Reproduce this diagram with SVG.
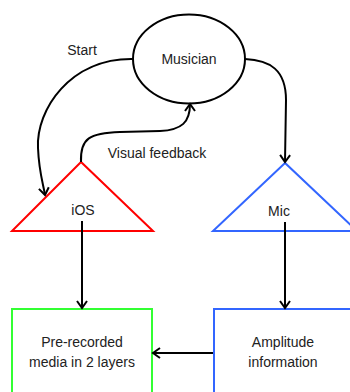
<svg xmlns="http://www.w3.org/2000/svg" width="350" height="392" viewBox="0 0 350 392">
<style>
text{font-family:"Liberation Sans",Arial,sans-serif;font-size:14px;fill:#222;text-anchor:middle}
.shape{fill:#fff;stroke-width:2}
.conn{fill:none;stroke:#000;stroke-width:2}
</style>
<defs>
<marker id="arr" markerWidth="12" markerHeight="12" refX="9" refY="6" orient="auto" markerUnits="userSpaceOnUse">
<path d="M2,1 L9,6 L2,11" fill="none" stroke="#000" stroke-width="2"/>
</marker>
</defs>
<rect width="350" height="392" fill="#fff"/>
<g id="musician">
<ellipse class="shape" cx="189" cy="59" rx="56" ry="44.5" stroke="#000"/>
<text x="189" y="64">Musician</text>
</g>
<g id="ios">
<polygon class="shape" points="81,162 12,231 153,231" stroke="#ff0000"/>
<text x="83" y="215">iOS</text>
</g>
<g id="mic">
<polygon class="shape" points="285,163 213,231 357,231" stroke="#3366ff"/>
<text x="279" y="216">Mic</text>
</g>
<g id="prerecorded">
<rect class="shape" x="12" y="309" width="140" height="100" stroke="#33ff33"/>
<text x="82" y="347">Pre-recorded</text>
<text x="82" y="367">media in 2 layers</text>
</g>
<g id="amplitude">
<rect class="shape" x="214" y="309" width="150" height="100" stroke="#3366ff"/>
<text x="283" y="347">Amplitude</text>
<text x="283" y="367">information</text>
</g>
<g id="connectors">
<path class="conn" d="M133,59 C70,58 36,110 38,148 C39,172 43,183 45,195" marker-end="url(#arr)"/>
<path class="conn" d="M81,162 C80,138 90,133 120,132 L160,131 C182,130 190,122 190,104" marker-end="url(#arr)"/>
<path class="conn" d="M245,59 C270,60 286,70 286,100 L285,162" marker-end="url(#arr)"/>
<path class="conn" d="M82,221 L82,308" marker-end="url(#arr)"/>
<path class="conn" d="M285,222 L285,308" marker-end="url(#arr)"/>
<path class="conn" d="M213,353 L153,353" marker-end="url(#arr)"/>
</g>
<g id="labels">
<text x="82" y="55">Start</text>
<text x="157" y="158">Visual feedback</text>
</g>
</svg>
